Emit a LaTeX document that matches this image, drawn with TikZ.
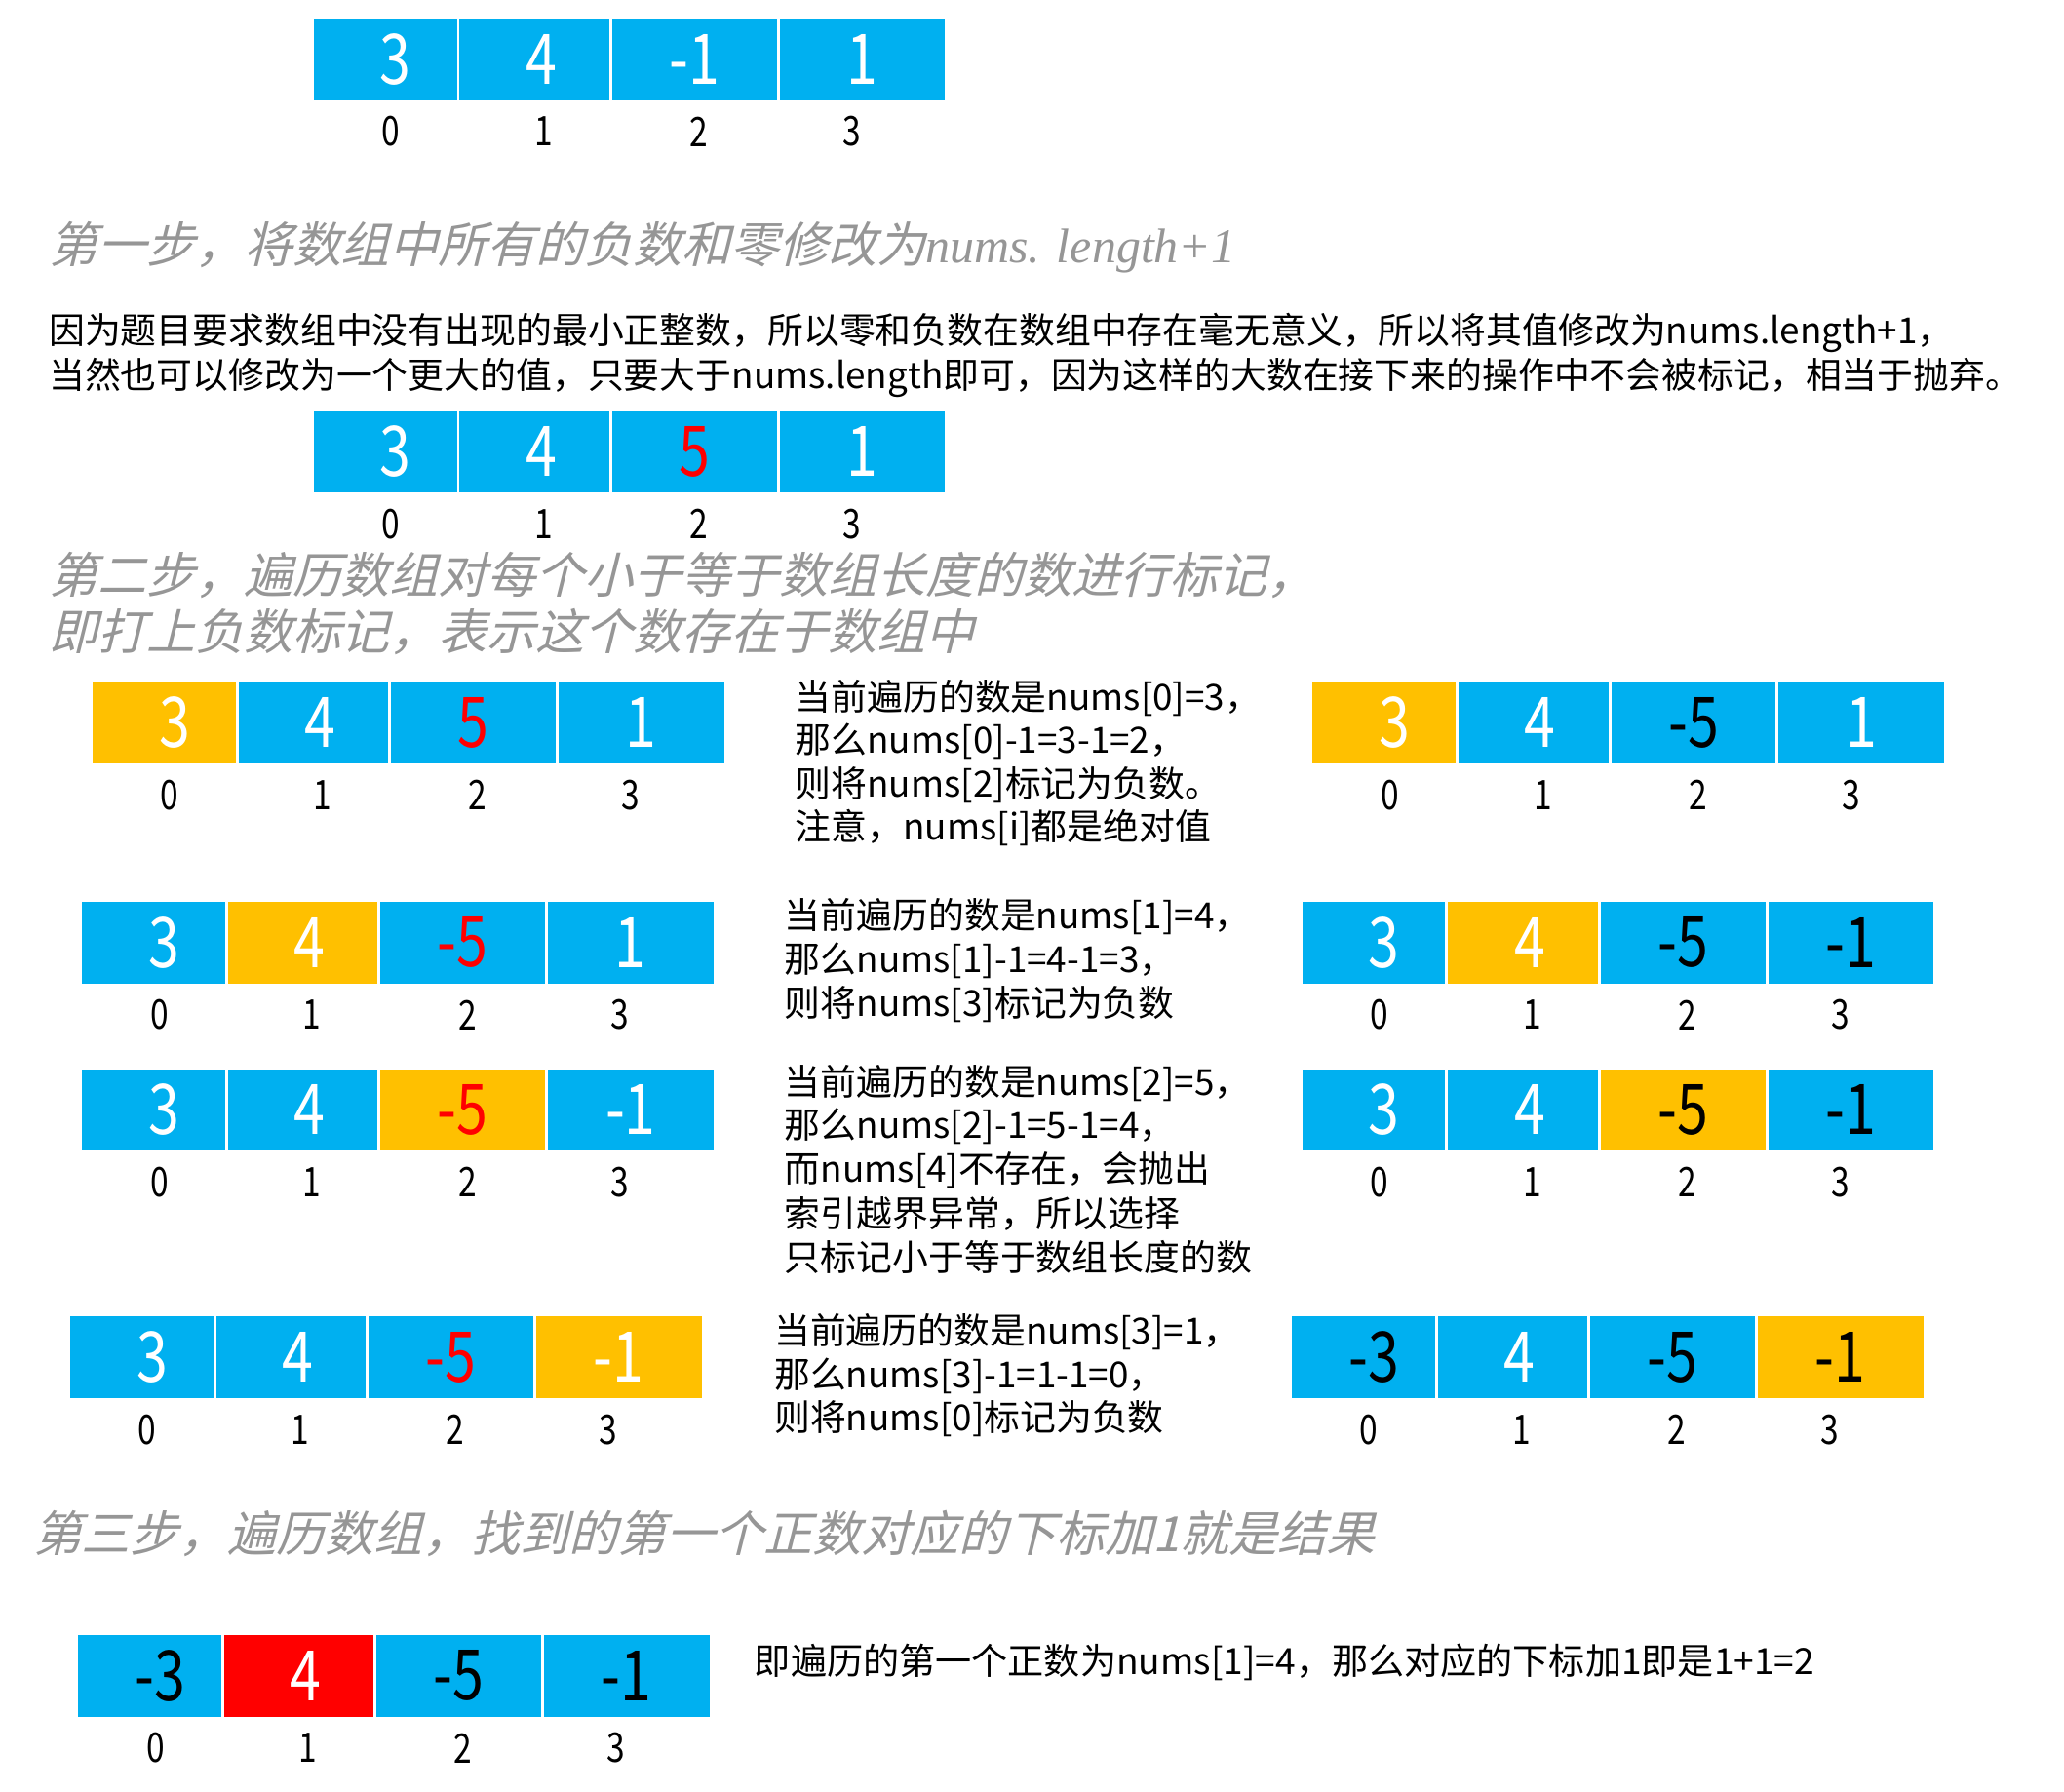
\documentclass[tikz,border=0pt]{standalone}
\usepackage{fontspec}
\setmainfont{Noto Sans CJK SC}
\newfontfamily\headfont[FakeSlant=0.25]{Noto Sans CJK SC}
\newfontfamily\headlatin{Liberation Serif}
\newfontfamily\numfont[FakeStretch=0.8]{Noto Sans CJK SC}
\definecolor{cblue}{RGB}{0,176,240}
\definecolor{cyel}{RGB}{255,192,0}
\definecolor{cred}{RGB}{255,0,0}
\definecolor{hgray}{RGB}{150,150,150}
\tikzset{
  cellbox/.style={anchor=north west, minimum height=63pt, inner sep=0pt, draw=white, line width=1.2pt,
    font=\numfont\fontsize{53}{56}\selectfont},
  idxlabel/.style={inner sep=0pt, font=\numfont\fontsize{31}{33}\selectfont},
  head/.style={anchor=west, inner sep=0pt, text=hgray, font=\headfont\fontsize{37}{40}\selectfont},
  para/.style={anchor=west, inner sep=0pt, font=\fontsize{27.3}{30}\selectfont},
}
\newcommand\mkarr[4]{%
  \foreach \f/\t/\v [count=\i from 0] in {#4}{%
    \pgfmathsetmacro\cxl{#2+{0,111,227,354}[\i]}%
    \pgfmathsetmacro\cw{{110,115,126,127}[\i]}%
    \pgfmathsetmacro\cxlab{#2+{60,176,294,410}[\i]}%
    \pgfmathsetmacro\csh{{16,10,0,0}[\i]}%
    \node[cellbox, fill=\f, text=\t, minimum width=\cw pt] (#1c\i) at (\cxl,#3) {\hspace*{\csh pt}\v};
    \node[idxlabel] (#1i\i) at (\cxlab,#3+87) {\i};
  }}
\begin{document}
\begin{tikzpicture}[x=1pt,y=-1pt]
\useasboundingbox (0,0) rectangle (1568,1360.7);
\mkarr{a}{237}{13}{cblue/white/3, cblue/white/4, cblue/white/-1, cblue/white/1}
\node[head] (h1) at (37,188) {第一步，将数组中所有的负数和零修改为{\headlatin\itshape nums. length+1}};
\node[para] (p1) at (37,253) {因为题目要求数组中没有出现的最小正整数，所以零和负数在数组中存在毫无意义，所以将其值修改为nums.length+1，};
\node[para] (p2) at (37,287) {当然也可以修改为一个更大的值，只要大于nums.length即可，因为这样的大数在接下来的操作中不会被标记，相当于抛弃。};
\mkarr{b}{237}{311}{cblue/white/3, cblue/white/4, cblue/cred/5, cblue/white/1}
\node[head] (h2a) at (37,437) {第二步，遍历数组对每个小于等于数组长度的数进行标记，};
\node[head] (h2b) at (37,480) {即打上负数标记，表示这个数存在于数组中};
% row A
\mkarr{la}{69}{517}{cyel/white/3, cblue/white/4, cblue/cred/5, cblue/white/1}
\mkarr{ra}{996}{517}{cyel/white/3, cblue/white/4, cblue/black/-5, cblue/white/1}
\node[para] (ta1) at (604,530) {当前遍历的数是nums[0]=3，};
\node[para] (ta2) at (604,563) {那么nums[0]-1=3-1=2，};
\node[para] (ta3) at (604,596) {则将nums[2]标记为负数。};
\node[para] (ta4) at (604,629) {注意，nums[i]都是绝对值};
% row B
\mkarr{lb}{61}{684}{cblue/white/3, cyel/white/4, cblue/cred/-5, cblue/white/1}
\mkarr{rb}{988}{684}{cblue/white/3, cyel/white/4, cblue/black/-5, cblue/black/-1}
\node[para] (tb1) at (596,696) {当前遍历的数是nums[1]=4，};
\node[para] (tb2) at (596,730) {那么nums[1]-1=4-1=3，};
\node[para] (tb3) at (596,763) {则将nums[3]标记为负数};
% row C
\mkarr{lc}{61}{811}{cblue/white/3, cblue/white/4, cyel/cred/-5, cblue/white/-1}
\mkarr{rc}{988}{811}{cblue/white/3, cblue/white/4, cyel/black/-5, cblue/black/-1}
\node[para] (tc1) at (596,823) {当前遍历的数是nums[2]=5，};
\node[para] (tc2) at (596,856) {那么nums[2]-1=5-1=4，};
\node[para] (tc3) at (596,889) {而nums[4]不存在，会抛出};
\node[para] (tc4) at (596,922) {索引越界异常，所以选择};
\node[para] (tc5) at (596,955) {只标记小于等于数组长度的数};
% row D
\mkarr{ld}{52}{999}{cblue/white/3, cblue/white/4, cblue/cred/-5, cyel/white/-1}
\mkarr{rd}{980}{999}{cblue/black/-3, cblue/white/4, cblue/black/-5, cyel/black/-1}
\node[para] (td1) at (588,1012) {当前遍历的数是nums[3]=1，};
\node[para] (td2) at (588,1045) {那么nums[3]-1=1-1=0，};
\node[para] (td3) at (588,1078) {则将nums[0]标记为负数};
% step 3
\node[head] (h3) at (25,1165) {第三步，遍历数组，找到的第一个正数对应的下标加1就是结果};
\mkarr{f}{58}{1241}{cblue/black/-3, cred/white/4, cblue/black/-5, cblue/black/-1}
\node[para, font=\fontsize{27.5}{30}\selectfont] (tf) at (573,1263) {即遍历的第一个正数为nums[1]=4，那么对应的下标加1即是1+1=2};
\end{tikzpicture}
\end{document}
